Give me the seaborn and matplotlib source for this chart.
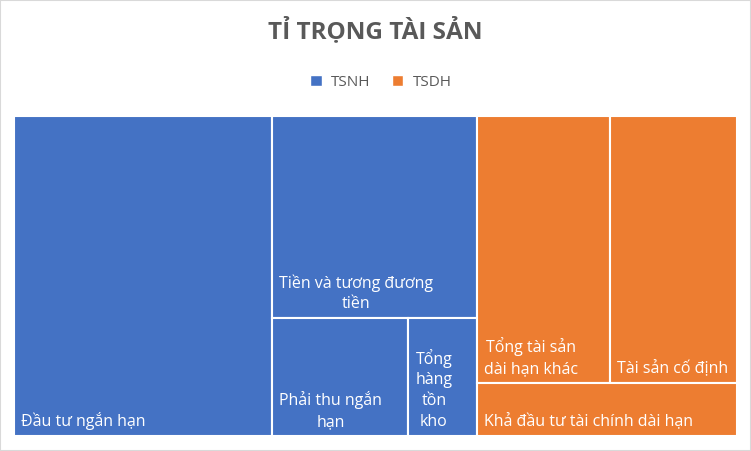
import numpy as np
import pandas as pd
import matplotlib.pyplot as plt
import seaborn as sns
from matplotlib.patches import Rectangle, Patch

# data (share of total assets)
groups = ['TSNH', 'TSNH', 'TSNH', 'TSNH', 'TSDH', 'TSDH', 'TSDH']
items = ['Đầu tư ngắn hạn', 'Tiền và tương đương tiền', 'Phải thu ngắn hạn',
         'Tổng hàng tồn kho', 'Tổng tài sản dài hạn khác', 'Tài sản cố định',
         'Khả đầu tư tài chính dài hạn']
labels = ['Đầu tư ngắn hạn', 'Tiền và tương đương\ntiền', 'Phải thu ngắn\nhạn',
          'Tổng\nhàng\ntồn\nkho', 'Tổng tài sản\ndài hạn khác', 'Tài sản cố định',
          'Khả đầu tư tài chính dài hạn']
values = [35.6, 17.9, 6.9, 3.5, 15.3, 14.6, 5.9]

df = pd.DataFrame({'group': groups, 'item': items, 'label': labels, 'value': values})

sns.set_theme(style='white')
plt.rcParams['font.family'] = ['Open Sans', 'DejaVu Sans']
colors = {'TSNH': '#4472C4', 'TSDH': '#ED7D31'}

# split structure of the treemap: ('h' = side by side, 'v' = stacked)
tree = ('h', [('h', [0, ('v', [1, ('h', [2, 3])])]),
              ('v', [('h', [4, 5]), 6])])


def total(node):
    if isinstance(node, int):
        return df['value'][node]
    return sum(total(n) for n in node[1])


rects = {}


def place(node, x, y, w, h):
    if isinstance(node, int):
        rects[node] = (x, y, w, h)
        return
    d, kids = node
    s = total(node)
    for k in kids:
        f = total(k) / s
        if d == 'h':
            place(k, x, y, w * f, h)
            x += w * f
        else:
            place(k, x, y, w, h * f)
            y += h * f


place(tree, 0, 0, 1, 1)

fig = plt.figure(figsize=(7.51, 4.51), dpi=100)
ax = fig.add_axes([14 / 751, 15 / 451, 723 / 751, 320 / 451])
ax.set_xlim(0, 1)
ax.set_ylim(1, 0)
ax.axis('off')

for i, row in df.iterrows():
    x, y, w, h = rects[i]
    ax.add_patch(Rectangle((x, y), w, h, facecolor=colors[row['group']],
                           edgecolor='white', linewidth=1.5))
    ax.annotate(row['label'], (x, y + h), xytext=(7, 6), textcoords='offset pixels',
                ha='left', va='bottom', multialignment='center',
                color='white', fontsize=11.5, linespacing=1.4)

fig.text(0.5, 1 - 31 / 451, 'TỈ TRỌNG TÀI SẢN', ha='center', va='center',
         fontsize=17.5, fontweight='bold', color='#595959')

handles = [Patch(facecolor=colors[g], label=g) for g in ['TSNH', 'TSDH']]
fig.legend(handles=handles, loc='center', bbox_to_anchor=(381 / 751, 1 - 82 / 451),
           ncol=2, frameon=False, fontsize=11, handlelength=0.75, handleheight=0.75,
           handletextpad=0.6, columnspacing=1.4, labelcolor='#595959')

fig.patches.append(Rectangle((0, 0), 1, 1, transform=fig.transFigure, fill=False,
                             edgecolor='#D9D9D9', linewidth=1.5))

fig.savefig('out.png', dpi=100)
